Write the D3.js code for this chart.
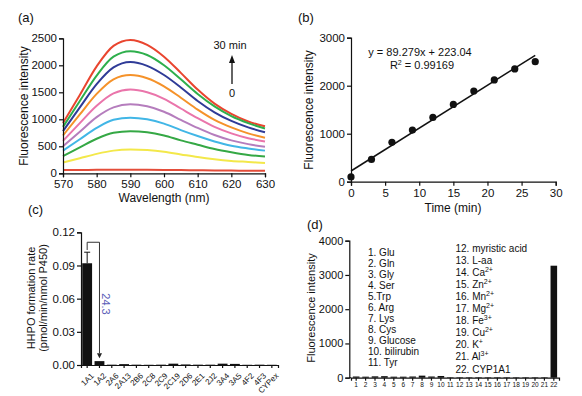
<!DOCTYPE html>
<html>
<head>
  <script src="https://d3js.org/d3.v7.min.js"></script>
  <style>
    body { margin: 0; background: #fff; }
    text { font-family: "Liberation Sans", Arial, sans-serif; fill: #111; }
  </style>
</head>
<body>
<svg width="582" height="396"></svg>
<script>
  // (a) spectra, one curve per time point (top = 30 min)
  const wavelengths = [570, 575, 580, 585, 590, 595, 600, 605, 610, 615, 620, 625, 630];
  const spectra = [
    [930, 1450, 1980, 2360, 2470, 2380, 2160, 1860, 1550, 1290, 1100, 960, 870],
    [860, 1340, 1810, 2160, 2260, 2190, 2000, 1740, 1470, 1240, 1060, 930, 830],
    [780, 1220, 1650, 1960, 2060, 1990, 1820, 1590, 1340, 1130, 970, 850, 760],
    [700, 1090, 1470, 1740, 1820, 1760, 1610, 1400, 1180, 990, 850, 740, 660],
    [600, 930, 1250, 1480, 1550, 1500, 1380, 1200, 1020, 860, 740, 650, 590],
    [500, 770, 1040, 1220, 1280, 1240, 1140, 990, 840, 710, 610, 540, 490],
    [420, 630, 840, 990, 1030, 1000, 920, 800, 690, 590, 510, 460, 420],
    [320, 480, 640, 750, 780, 760, 700, 610, 530, 450, 390, 340, 310],
    [200, 280, 360, 420, 440, 430, 400, 350, 300, 260, 230, 210, 190],
    [60, 62, 64, 66, 66, 65, 63, 60, 57, 54, 50, 47, 45]
  ];
  const spectraColors = ["#e9452f", "#2eaf4c", "#2f3b97", "#f5922a", "#ea75ab",
                         "#b57dbd", "#41b6e6", "#35a845", "#f3e84a", "#e44d3a"];

  // (b) time course
  const times = [0, 3, 6, 9, 12, 15, 18, 21, 24, 27];
  const intensities = [100, 465, 820, 1076, 1340, 1610, 1890, 2120, 2350, 2500];
  const fitSlope = 89.279, fitIntercept = 223.04;

  // (c) isoforms
  const isoforms = ["1A1", "1A2", "2A6", "2A13", "2B6", "2C8", "2C9", "2C19", "2D6",
                    "2E1", "2J2", "3A4", "3A5", "4F2", "4F3", "CYPex"];
  const rates = [0.092, 0.0035, 0.0003, 0.0008, 0.0003, 0.0002, 0.0003, 0.0012, 0.0005,
                 0.0003, 0.0003, 0.0012, 0.0010, 0.0002, 0.0003, 0.0002];
  const rateErr = [0.010, 0.0005, 0, 0, 0, 0, 0, 0.0003, 0, 0, 0, 0.0003, 0.0002, 0, 0, 0];

  // (d) selectivity
  const analytes = d3.range(1, 23).map(String);
  const selectivity = [35, 30, 40, 45, 30, 30, 35, 60, 35, 50, 15, 15, 15, 15, 15, 15, 15, 15, 15, 15, 15, 3270];
  const legendLeft = ["1. Glu", "2. Gln", "3. Gly", "4. Ser", "5.Trp", "6. Arg", "7. Lys",
                      "8. Cys", "9. Glucose", "10. bilirubin", "11. Tyr"];
  const legendRight = [["12. myristic acid", ""], ["13. L-aa", ""], ["14. Ca", "2+"], ["15. Zn", "2+"],
                       ["16. Mn", "2+"], ["17. Mg", "2+"], ["18. Fe", "3+"], ["19. Cu", "2+"],
                       ["20. K", "+"], ["21. Al", "3+"], ["22. CYP1A1", ""]];

  const svg = d3.select("svg");
  const intFmt = d3.format("d");

  function styleAxis(g, fs) {
    g.selectAll("path, line").attr("stroke", "#111").attr("stroke-width", 1.2);
    g.selectAll("text").style("font-size", fs + "px").attr("fill", "#111");
  }
  function panelLabel(x, y, t) {
    svg.append("text").attr("x", x).attr("y", y).style("font-size", "13px").text(t);
  }

  // ---------- (a)
  const xa = d3.scaleLinear().domain([570, 630]).range([63, 265]);
  const ya = d3.scaleLinear().domain([0, 2500]).range([173.3, 38.3]);
  const lineA = d3.line().x((d, i) => xa(wavelengths[i])).y(d => ya(d)).curve(d3.curveMonotoneX);
  svg.append("g").selectAll("path").data(spectra).enter().append("path")
    .attr("d", lineA).attr("fill", "none")
    .attr("stroke", (d, i) => spectraColors[i]).attr("stroke-width", 2);
  svg.append("g").attr("transform", "translate(0,173.3)")
    .call(d3.axisBottom(xa).tickValues([570, 580, 590, 600, 610, 620, 630]).tickSizeOuter(0).tickSize(4))
    .call(g => styleAxis(g, 11.5));
  svg.append("g").attr("transform", "translate(63,0)")
    .call(d3.axisLeft(ya).tickValues([0, 500, 1000, 1500, 2000, 2500]).tickFormat(intFmt).tickSizeOuter(0).tickSize(4).tickPadding(2))
    .call(g => styleAxis(g, 11.5));
  svg.append("text").attr("x", 164).attr("y", 202).attr("text-anchor", "middle")
    .style("font-size", "12px").text("Wavelength (nm)");
  svg.append("text").attr("transform", "translate(28,106) rotate(-90)").attr("text-anchor", "middle")
    .style("font-size", "12px").text("Fluorescence intensity");
  panelLabel(18, 22, "(a)");
  svg.append("text").attr("x", 230).attr("y", 49).attr("text-anchor", "middle").style("font-size", "11px").text("30 min");
  svg.append("line").attr("x1", 232).attr("x2", 232).attr("y1", 84).attr("y2", 62).attr("stroke", "#111").attr("stroke-width", 1.3);
  svg.append("path").attr("d", "M229,63 L232,55 L235,63 Z").attr("fill", "#111");
  svg.append("text").attr("x", 232).attr("y", 97).attr("text-anchor", "middle").style("font-size", "11px").text("0");

  // ---------- (b)
  const xb = d3.scaleLinear().domain([0, 30]).range([351, 555.7]);
  const yb = d3.scaleLinear().domain([0, 3000]).range([181.7, 37.7]);
  svg.append("line").attr("x1", xb(0)).attr("y1", yb(fitIntercept))
    .attr("x2", xb(27)).attr("y2", yb(fitSlope * 27 + fitIntercept))
    .attr("stroke", "#111").attr("stroke-width", 1.5);
  svg.append("g").selectAll("circle").data(times).enter().append("circle")
    .attr("cx", d => xb(d)).attr("cy", (d, i) => yb(intensities[i])).attr("r", 3.6).attr("fill", "#111");
  svg.append("g").attr("transform", "translate(0,181.7)")
    .call(d3.axisBottom(xb).tickValues([0, 5, 10, 15, 20, 25, 30]).tickSizeOuter(0).tickSize(4))
    .call(g => styleAxis(g, 11.5));
  svg.append("g").attr("transform", "translate(351,0)")
    .call(d3.axisLeft(yb).tickValues([0, 1000, 2000, 3000]).tickFormat(intFmt).tickSizeOuter(0).tickSize(4).tickPadding(2))
    .call(g => styleAxis(g, 11.5));
  svg.append("text").attr("x", 453).attr("y", 212).attr("text-anchor", "middle")
    .style("font-size", "12px").text("Time (min)");
  svg.append("text").attr("transform", "translate(313,110) rotate(-90)").attr("text-anchor", "middle")
    .style("font-size", "12px").text("Fluorescence intensity");
  panelLabel(298, 22, "(b)");
  svg.append("text").attr("x", 420).attr("y", 56).attr("text-anchor", "middle").style("font-size", "11px")
    .text("y = " + fitSlope + "x + " + fitIntercept.toFixed(2));
  const r2 = svg.append("text").attr("x", 422).attr("y", 69).attr("text-anchor", "middle").style("font-size", "11px");
  r2.append("tspan").text("R");
  r2.append("tspan").attr("dy", -4).style("font-size", "7px").text("2");
  r2.append("tspan").attr("dy", 4).text(" = 0.99169");

  // ---------- (c)
  const xc = d3.scaleBand().domain(isoforms).range([81, 278]).paddingInner(0.2).paddingOuter(0.1);
  const yc = d3.scaleLinear().domain([0, 0.12]).range([365, 232.3]);
  const gc = svg.append("g");
  gc.selectAll("rect").data(isoforms).enter().append("rect")
    .attr("x", d => xc(d)).attr("width", xc.bandwidth())
    .attr("y", (d, i) => yc(rates[i])).attr("height", (d, i) => yc(0) - yc(rates[i]))
    .attr("fill", "#111");
  gc.selectAll("g.err").data(isoforms.filter((d, i) => rateErr[i] > 0.001)).enter().append("g")
    .each(function(d) {
      const i = isoforms.indexOf(d), cx = xc(d) + xc.bandwidth() / 2;
      const g = d3.select(this);
      g.append("line").attr("x1", cx).attr("x2", cx).attr("y1", yc(rates[i])).attr("y2", yc(rates[i] + rateErr[i]))
        .attr("stroke", "#111").attr("stroke-width", 1);
      g.append("line").attr("x1", cx - 3).attr("x2", cx + 3).attr("y1", yc(rates[i] + rateErr[i])).attr("y2", yc(rates[i] + rateErr[i]))
        .attr("stroke", "#111").attr("stroke-width", 1);
    });
  svg.append("g").attr("transform", "translate(0,365)")
    .call(d3.axisBottom(xc).tickSizeOuter(0).tickSize(3))
    .call(g => styleAxis(g, 8))
    .call(g => g.selectAll("text").attr("text-anchor", "end").attr("dx", 0).attr("dy", 0)
      .attr("transform", "translate(3,7) rotate(-45)"));
  svg.append("g").attr("transform", "translate(81,0)")
    .call(d3.axisLeft(yc).tickValues([0, 0.03, 0.06, 0.09, 0.12]).tickFormat(d3.format(".2f")).tickSizeOuter(0).tickSize(4).tickPadding(2))
    .call(g => styleAxis(g, 11.5));
  // bracket with fold change
  const c1 = xc("1A1") + xc.bandwidth() / 2, c2 = xc("1A2") + xc.bandwidth() / 2;
  const yTop = yc(0.111);
  svg.append("path").attr("d", `M${c1},${yc(0.104)} V${yTop} H${c2} V${yc(rates[1]) - 8}`)
    .attr("fill", "none").attr("stroke", "#333").attr("stroke-width", 1);
  svg.append("path").attr("d", `M${c2 - 2.5},${yc(rates[1]) - 8} L${c2},${yc(rates[1]) - 3} L${c2 + 2.5},${yc(rates[1]) - 8} Z`).attr("fill", "#222");
  svg.append("text").attr("transform", "translate(102,304) rotate(90)").attr("text-anchor", "middle")
    .style("font-size", "11px").style("fill", "#5a5cb8").text("24.3");
  svg.append("text").attr("transform", "translate(35,298) rotate(-90)").attr("text-anchor", "middle")
    .style("font-size", "11px").text("HHPO formation rate");
  svg.append("text").attr("transform", "translate(47,298) rotate(-90)").attr("text-anchor", "middle")
    .style("font-size", "11px").text("(pmol/min/nmol P450)");
  panelLabel(28, 214, "(c)");

  // ---------- (d)
  const xd = d3.scaleBand().domain(analytes).range([351, 559]).paddingInner(0.3).paddingOuter(0.2);
  const yd = d3.scaleLinear().domain([0, 4000]).range([377.7, 240.7]);
  svg.append("g").selectAll("rect").data(analytes).enter().append("rect")
    .attr("x", d => xd(d)).attr("width", xd.bandwidth())
    .attr("y", (d, i) => yd(selectivity[i])).attr("height", (d, i) => yd(0) - yd(selectivity[i]))
    .attr("fill", "#111");
  svg.append("g").attr("transform", "translate(0,377.7)")
    .call(d3.axisBottom(xd).tickSizeOuter(0).tickSize(3).tickPadding(2))
    .call(g => styleAxis(g, 6.5));
  svg.append("g").attr("transform", "translate(349.3,0)")
    .call(d3.axisLeft(yd).tickValues([0, 1000, 2000, 3000, 4000]).tickFormat(intFmt).tickSizeOuter(0).tickSize(4).tickPadding(2))
    .call(g => styleAxis(g, 11));
  svg.append("line").attr("x1", 349.3).attr("x2", 351).attr("y1", 377.7).attr("y2", 377.7).attr("stroke", "#111");
  svg.append("text").attr("transform", "translate(315,308) rotate(-90)").attr("text-anchor", "middle")
    .style("font-size", "11px").text("Fluorescence intensity");
  panelLabel(307, 229, "(d)");
  svg.append("g").selectAll("text").data(legendLeft).enter().append("text")
    .attr("x", 368).attr("y", (d, i) => 255.5 + i * 11).style("font-size", "10px").text(d => d);
  const lr = svg.append("g").selectAll("text").data(legendRight).enter().append("text")
    .attr("x", 455.5).attr("y", (d, i) => 251.5 + i * 12.1).style("font-size", "10px");
  lr.append("tspan").text(d => d[0]);
  lr.append("tspan").attr("dy", -4).style("font-size", "7px").text(d => d[1]);
</script>
</body>
</html>
